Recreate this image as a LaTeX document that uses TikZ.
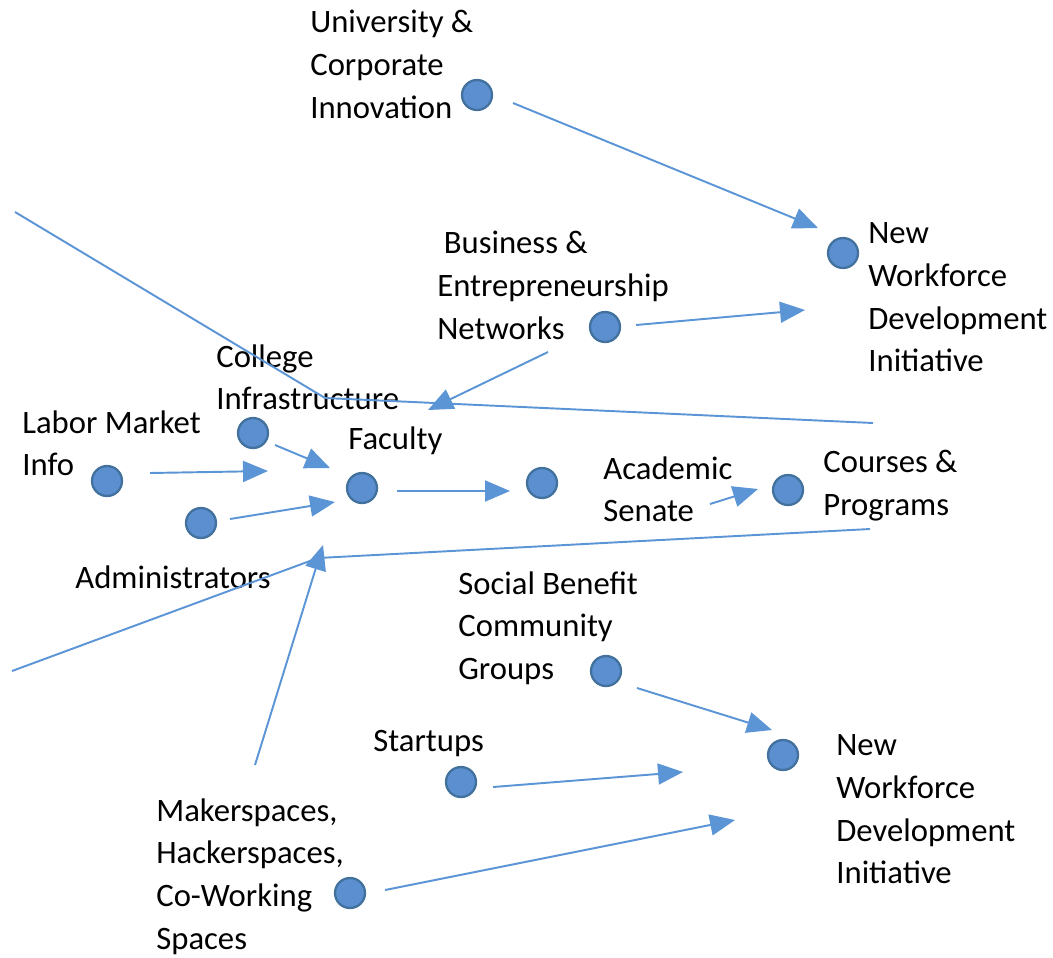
\documentclass[tikz,border=0pt]{standalone}
\usepackage{fontspec}
\setmainfont{Carlito}
\usetikzlibrary{arrows.meta}
\definecolor{dotfill}{HTML}{5B8FD0}
\definecolor{dotline}{HTML}{41719C}
\definecolor{conn}{HTML}{5B95D5}
\begin{document}
\begin{tikzpicture}[x=0.02cm,y=-0.02cm,
  dot/.style={circle,fill=dotfill,draw=dotline,line width=1.3pt,minimum size=0.6cm,inner sep=0pt},
  lbl/.style={anchor=north west,inner sep=0pt,align=left,font=\fontsize{18.6}{24.4}\selectfont,text=black},
  link/.style={draw=conn,line width=1.1pt},
  arr/.style={link,-{Triangle[length=0.5cm,width=0.42cm]}}]
\useasboundingbox (0,0) rectangle (1053,957);
% dots
\node[dot] (uni) at (477,95) {};
\node[dot] (nwt) at (843,253) {};
\node[dot] (bus) at (605,327) {};
\node[dot] (col) at (253,433) {};
\node[dot] (lab) at (107,481) {};
\node[dot] (fac) at (362,488) {};
\node[dot] (mid) at (542,483) {};
\node[dot] (cou) at (788,490) {};
\node[dot] (adm) at (201,523) {};
\node[dot] (soc) at (606,671) {};
\node[dot] (nwb) at (783,755) {};
\node[dot] (sta) at (461,782) {};
\node[dot] (mak) at (350,893) {};
% labels
\node[lbl] (tuni) at (310,10) {University \&\\Corporate\\Innovation};
\node[lbl] (tnwt) at (868,222) {New\\Workforce\\Development\\Initiative};
\node[lbl] (tbus) at (437,231) {\hspace*{0.13cm}Business \&\\Entrepreneurship\\Networks};
\node[lbl] (tcol) at (216,344) {College\\Infrastructure};
\node[lbl] (tlab) at (22,410) {Labor Market\\Info};
\node[lbl] (tfac) at (348,426) {Faculty};
\node[lbl] (taca) at (603,456) {Academic\\Senate};
\node[lbl] (tcou) at (823,450) {Courses \&\\Programs};
\node[lbl] (tadm) at (75,565) {Administrators};
\node[lbl] (tsoc) at (458,571) {Social Benefit\\Community\\Groups};
\node[lbl] (tsta) at (373,730) {Startups};
\node[lbl] (tnwb) at (836,734) {New\\Workforce\\Development\\Initiative};
\node[lbl] (tmak) at (156,798) {Makerspaces,\\Hackerspaces,\\Co-Working\\Spaces};
% connector end points
\coordinate (a1) at (513,103); \coordinate (a2) at (818,228);
\coordinate (b1) at (636,325); \coordinate (b2) at (805,310);
\coordinate (c1) at (548,352); \coordinate (c2) at (428,410);
\coordinate (d1) at (15,212);  \coordinate (d2) at (325,398); \coordinate (d3) at (873,423);
\coordinate (e1) at (150,473); \coordinate (e2) at (268,471);
\coordinate (f1) at (275,445); \coordinate (f2) at (330,468);
\coordinate (g1) at (230,519); \coordinate (g2) at (335,502);
\coordinate (h1) at (397,491); \coordinate (h2) at (510,491);
\coordinate (i1) at (710,504); \coordinate (i2) at (758,489);
\coordinate (j1) at (870,529); \coordinate (j2) at (318,558); \coordinate (j3) at (12,671);
\coordinate (k1) at (255,765); \coordinate (k2) at (323,545);
\coordinate (l1) at (637,688); \coordinate (l2) at (772,730);
\coordinate (m1) at (493,787); \coordinate (m2) at (683,772);
\coordinate (n1) at (385,890); \coordinate (n2) at (735,820);
% connectors
\draw[link] (d1) -- (d2) -- (d3);
\draw[link] (j1) -- (j2) -- (j3);
\draw[arr] (a1) -- (a2);
\draw[arr] (b1) -- (b2);
\draw[arr] (c1) -- (c2);
\draw[arr] (e1) -- (e2);
\draw[arr] (f1) -- (f2);
\draw[arr] (g1) -- (g2);
\draw[arr] (h1) -- (h2);
\draw[arr] (i1) -- (i2);
\draw[arr] (k1) -- (k2);
\draw[arr] (l1) -- (l2);
\draw[arr] (m1) -- (m2);
\draw[arr] (n1) -- (n2);
\end{tikzpicture}
\end{document}
